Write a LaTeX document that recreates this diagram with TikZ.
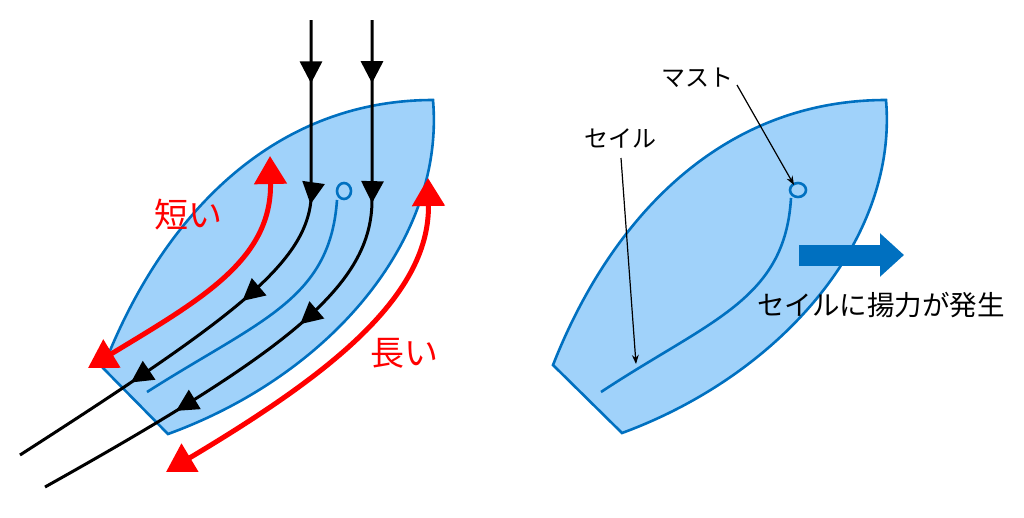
\documentclass[tikz,border=0pt]{standalone}
\usepackage{fontspec}
\setmainfont{Noto Sans CJK JP}
\usetikzlibrary{arrows.meta,decorations.markings}
\definecolor{hull}{RGB}{160,210,250}
\definecolor{hulledge}{RGB}{0,112,192}
\tikzset{
	boat/.style={fill=hull, draw=hulledge, line width=2.6pt},
	sail/.style={draw=hulledge, line width=2.6pt},
	flow/.style={draw=black, line width=3pt, postaction={decorate}},
	longshort/.style={draw=red, line width=5pt, {Triangle[length=28pt,width=32pt]}-{Triangle[length=28pt,width=32pt]}},
	label/.style={font=\fontsize{24}{24}\selectfont},
	pointer/.style={-{Stealth[length=9pt]}, line width=1.2pt}
}
\begin{document}
\begin{tikzpicture}[x=1pt, y=-1pt]
	\useasboundingbox (0,0) rectangle (1024,517);

	% left boat
	\draw [boat] (103,368) .. controls (160,220) and (270,100) .. (433,100)
		.. controls (445,240) and (330,375) .. (168,434) -- cycle;
	\coordinate (mast-l) at (344,191);
	\draw [sail] (mast-l) ellipse (7 and 8);
	\draw [sail] (337,200) .. controls (330,300) and (260,320) .. (147,392);

	% wind
	\foreach \n/\xs/\xe/\ye in {1/311/20/455, 2/372/45/487}{
		\coordinate (in-\n) at (\xs,20);
		\coordinate (turn-\n) at (\xs,200);
		\coordinate (out-\n) at (\xe,\ye);
	}
	\draw [flow, decoration={markings,
		mark=at position 0.11 with {\arrow{Triangle[length=22pt,width=22pt]}},
		mark=at position 0.32 with {\arrow{Triangle[length=22pt,width=22pt]}},
		mark=at position 0.53 with {\arrow{Triangle[length=22pt,width=22pt]}},
		mark=at position 0.77 with {\arrow{Triangle[length=22pt,width=22pt]}}}]
		(in-1) -- (turn-1) .. controls (305,265) and (230,320) .. (out-1);
	\draw [flow, decoration={markings,
		mark=at position 0.1 with {\arrow{Triangle[length=22pt,width=22pt]}},
		mark=at position 0.29 with {\arrow{Triangle[length=22pt,width=22pt]}},
		mark=at position 0.52 with {\arrow{Triangle[length=22pt,width=22pt]}},
		mark=at position 0.76 with {\arrow{Triangle[length=22pt,width=22pt]}}}]
		(in-2) -- (turn-2) .. controls (372,285) and (290,350) .. (out-2);

	% path lengths
	\coordinate (short-top) at (270,156);
	\coordinate (short-bot) at (88,368);
	\coordinate (long-top) at (428,178);
	\coordinate (long-bot) at (166,472);
	\draw [longshort] (short-bot) .. controls (200,300) and (272,260) .. (short-top);
	\draw [longshort] (long-bot) .. controls (320,380) and (430,300) .. (long-top);
	\node [label, text=red, font=\fontsize{34}{34}\selectfont] (short) at (188,215) {短い};
	\node [label, text=red, font=\fontsize{34}{34}\selectfont] (long) at (404,353) {長い};

	% right boat
	\draw [boat] (553,365) .. controls (610,220) and (720,100) .. (886,100)
		.. controls (898,240) and (780,375) .. (622,433) -- cycle;
	\coordinate (mast-r) at (798,190);
	\draw [sail] (mast-r) ellipse (8 and 7);
	\draw [sail] (791,198) .. controls (785,300) and (710,320) .. (601,392);

	\node [label] (mast) at (697,78) {マスト};
	\node [label] (sail) at (620,138) {セイル};
	\coordinate (mast-tip) at (794,185);
	\coordinate (sail-tip) at (636,364);
	\draw [pointer] (737,85) -- (mast-tip);
	\draw [pointer] (621,158) -- (sail-tip);

	\coordinate (lift-s) at (799,255);
	\coordinate (lift-e) at (904,255);
	\draw [hulledge, line width=21pt, -{Triangle[length=24pt,width=42pt]}] (lift-s) -- (lift-e);
	\node [label, font=\fontsize{27.5}{27.5}\selectfont] (lift) at (881,305) {セイルに揚力が発生};
\end{tikzpicture}
\end{document}
